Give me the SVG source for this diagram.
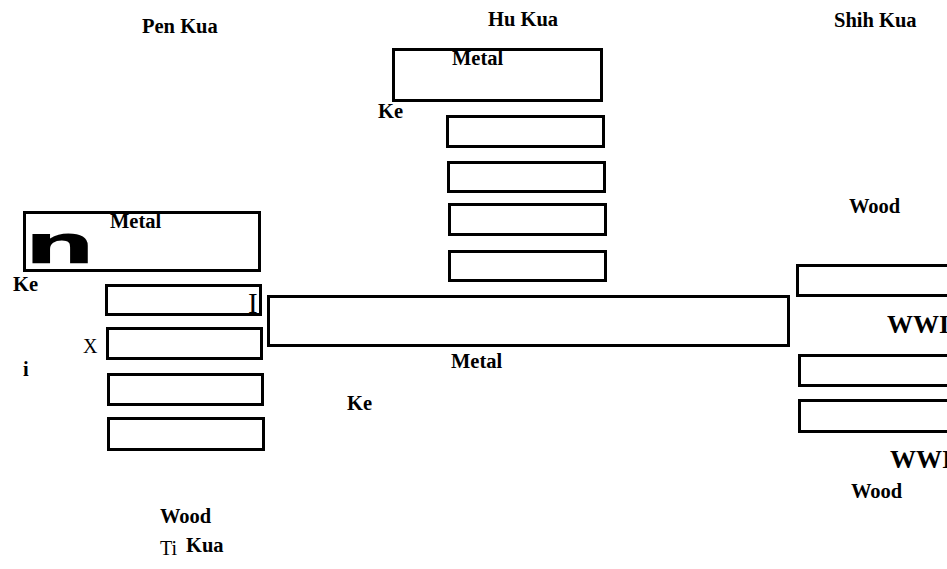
<svg xmlns="http://www.w3.org/2000/svg" width="947" height="569" viewBox="0 0 947 569">
<style>
.b{fill:#fff;stroke:#000;stroke-width:3}
.t{font-family:'Liberation Serif',serif;font-weight:bold;font-size:20.5px;fill:#000}
.n{font-family:'Liberation Serif',serif;font-weight:normal;font-size:20px;fill:#000}
.big{font-size:26px}
</style>
<rect width="947" height="569" fill="#fff"/>
<g id="labels">
<text class="t" x="142" y="33">Pen Kua</text>
<text class="t" x="488" y="26">Hu Kua</text>
<text class="t" x="834" y="27">Shih Kua</text>
</g>
<g id="pen-metal">
<rect class="b" x="24.5" y="212.5" width="235" height="58"/>
<text class="t" x="110" y="228">Metal</text>
<text transform="translate(24,263) scale(1.9,1)" font-family="'DejaVu Sans', sans-serif" font-weight="bold" font-size="53" fill="#000">n</text>
</g>
<g id="pen-ke">
<text class="t" x="13" y="291">Ke</text>
</g>
<g id="pen-box1"><rect class="b" x="106.5" y="285.5" width="154" height="29"/><text class="n" x="248" y="313" style="font-size:29px">I</text></g>
<g id="pen-box2"><rect class="b" x="107.5" y="328.5" width="154" height="30"/><text class="n" x="83" y="353">X</text></g>
<g id="pen-box3"><rect class="b" x="108.5" y="374.5" width="154" height="30"/><text class="t" x="23" y="376">i</text></g>
<g id="pen-box4"><rect class="b" x="108.5" y="418.5" width="155" height="31"/></g>
<g id="ti">
<text class="t" x="160" y="523">Wood</text>
<text class="n" x="160" y="555">Ti</text>
<text class="t" x="186" y="552">Kua</text>
</g>
<g id="hu-metal">
<rect class="b" x="393.5" y="49.5" width="208" height="51"/>
<text class="t" x="452" y="65">Metal</text>
<text class="t" x="378" y="118">Ke</text>
</g>
<g id="hu-box1"><rect class="b" x="447.5" y="116.5" width="156" height="30"/></g>
<g id="hu-box2"><rect class="b" x="448.5" y="162.5" width="156" height="29"/></g>
<g id="hu-box3"><rect class="b" x="449.5" y="204.5" width="156" height="30"/></g>
<g id="hu-box4"><rect class="b" x="449.5" y="251.5" width="156" height="29"/></g>
<g id="center">
<rect class="b" x="268.5" y="296.5" width="520" height="49"/>
<text class="t" x="451" y="368">Metal</text>
<text class="t" x="347" y="410">Ke</text>
</g>
<g id="shih">
<text class="t" x="849" y="213">Wood</text>
<rect class="b" x="797.5" y="265.5" width="160" height="30"/>
<text class="t big" x="887" y="333">WWI</text>
<rect class="b" x="799.5" y="355.5" width="160" height="30"/>
<rect class="b" x="799.5" y="400.5" width="160" height="31"/>
<text class="t big" x="890" y="468">WWI</text>
<text class="t" x="851" y="498">Wood</text>
</g>
<g id="connectors"></g>
</svg>
